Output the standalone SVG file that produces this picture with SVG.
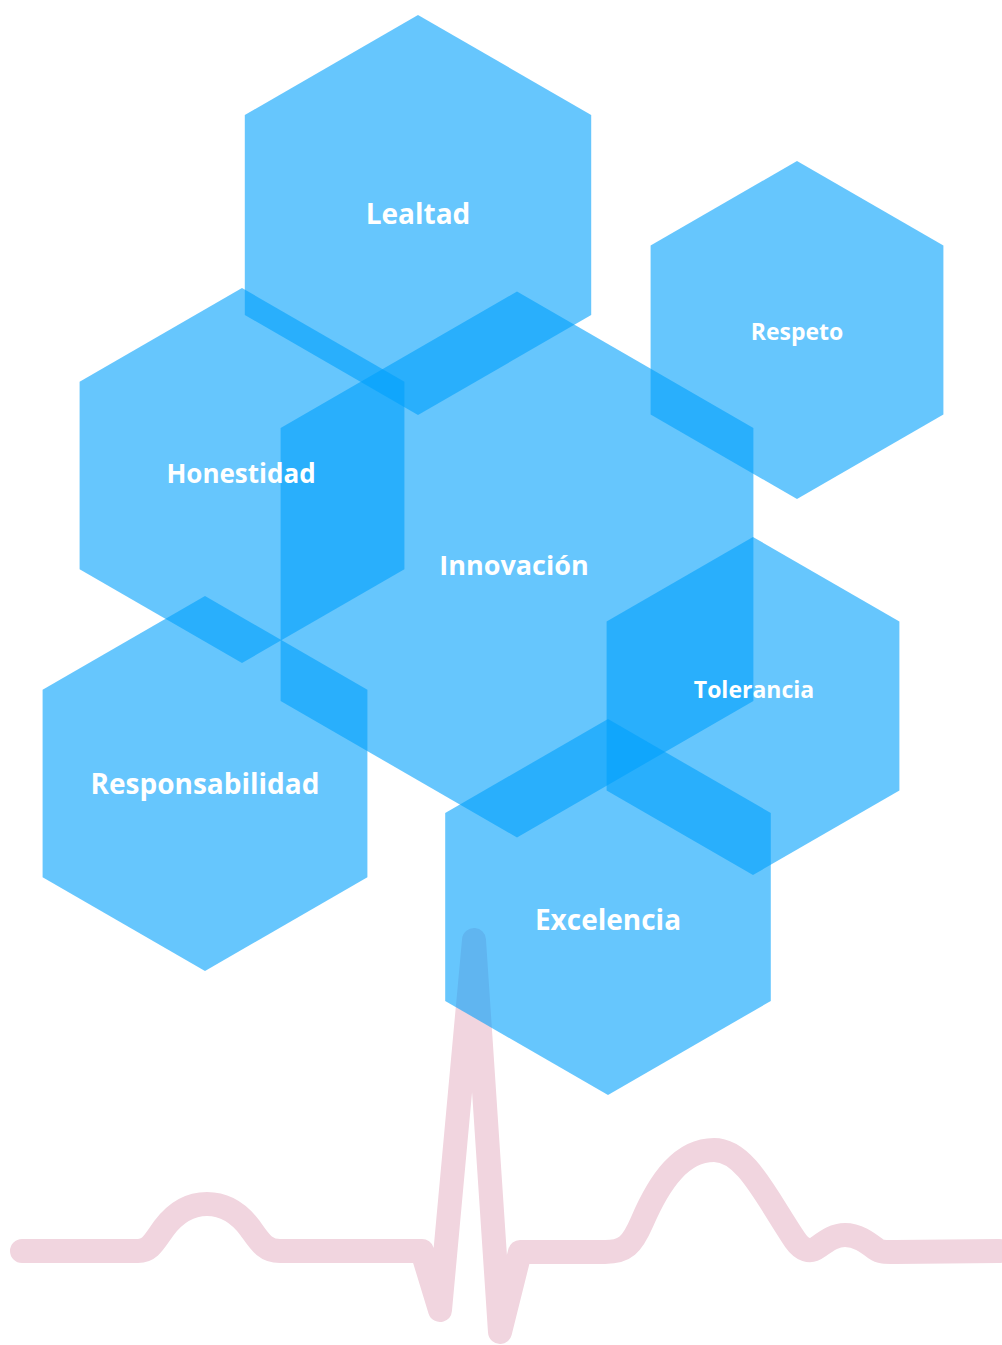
<svg xmlns="http://www.w3.org/2000/svg" width="1002" height="1345" viewBox="0 0 1002 1345">
<style>
.hex{fill:#00A0FC;fill-opacity:0.6;stroke:none}
.lbl{fill:#FFFFFF;font-family:"Open Sans","Noto Sans","DejaVu Sans",sans-serif;font-weight:700;text-anchor:middle}
.ecg{fill:none;stroke:#F1D5DF;stroke-width:24;stroke-linecap:round;stroke-linejoin:round}
</style>
<rect width="1002" height="1345" fill="#FFFFFF"/>
<g id="connectors">
<path class="ecg" d="M22,1251 L138,1251 C150,1251 154,1242 164,1228 C176,1212 190,1204 207,1204 C224,1204 238,1212 250,1228 C260,1242 265,1251 280,1251 L422,1251 L440,1310 L474,940 L500,1332 L520,1252 L605,1252 C625,1252 632,1245 642,1222 C660,1180 682,1150 714,1150 C745,1150 765,1195 795,1240 C802,1250 810,1253 818,1247 C828,1240 835,1235 845,1235 C858,1235 868,1243 876,1249 C880,1252 885,1252 895,1252 L999,1251"/>
</g>
<g id="node-innovacion">
<polygon class="hex" points="517,291.5 753.4,428 753.4,701 517,837.5 280.6,701 280.6,428"/>
<text class="lbl" x="514" y="575" font-size="27">Innovación</text>
</g>
<g id="node-lealtad">
<polygon class="hex" points="418,15 591.2,115 591.2,315 418,415 244.8,315 244.8,115"/>
<text class="lbl" x="418" y="224" font-size="28">Lealtad</text>
</g>
<g id="node-respeto">
<polygon class="hex" points="797,161 943.4,245.5 943.4,414.5 797,499 650.6,414.5 650.6,245.5"/>
<text class="lbl" x="797" y="340" font-size="23">Respeto</text>
</g>
<g id="node-honestidad">
<polygon class="hex" points="242,288 404.4,381.75 404.4,569.25 242,663 79.6,569.25 79.6,381.75"/>
<text class="lbl" x="241" y="483" font-size="26">Honestidad</text>
</g>
<g id="node-tolerancia">
<polygon class="hex" points="753,537 899.4,621.5 899.4,790.5 753,875 606.6,790.5 606.6,621.5"/>
<text class="lbl" x="754" y="698" font-size="23">Tolerancia</text>
</g>
<g id="node-responsabilidad">
<polygon class="hex" points="205,596 367.4,689.75 367.4,877.25 205,971 42.6,877.25 42.6,689.75"/>
<text class="lbl" x="205" y="794" font-size="28">Responsabilidad</text>
</g>
<g id="node-excelencia">
<polygon class="hex" points="608,719 770.8,813 770.8,1001 608,1095 445.2,1001 445.2,813"/>
<text class="lbl" x="608" y="930" font-size="28">Excelencia</text>
</g>
</svg>
